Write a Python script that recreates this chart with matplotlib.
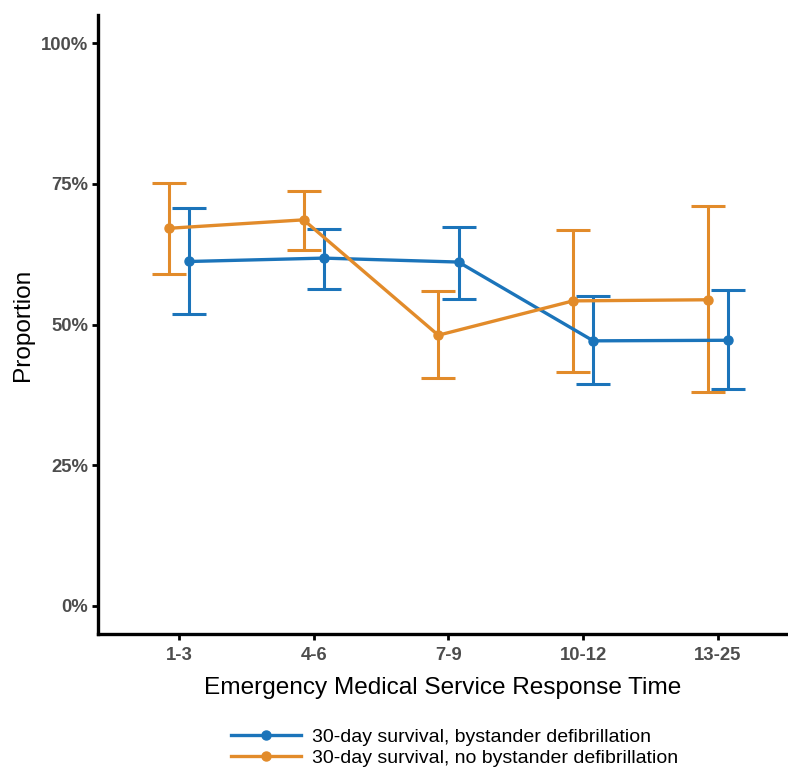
import matplotlib.pyplot as plt
import numpy as np
from matplotlib.ticker import FuncFormatter

plt.rcParams['font.family'] = ['Liberation Sans', 'DejaVu Sans']

# response time groups (minutes)
groups = ["1-3", "4-6", "7-9", "10-12", "13-25"]

# 30-day survival, bystander defibrillation
byst = [0.612, 0.618, 0.611, 0.471, 0.472]
byst_lo = [0.519, 0.564, 0.546, 0.394, 0.386]
byst_hi = [0.707, 0.669, 0.674, 0.550, 0.561]

# 30-day survival, no bystander defibrillation
nobyst = [0.671, 0.686, 0.481, 0.542, 0.544]
nobyst_lo = [0.590, 0.633, 0.405, 0.416, 0.380]
nobyst_hi = [0.751, 0.738, 0.560, 0.668, 0.710]

blue = '#1B74BA'
orange = '#E28B2A'

fig = plt.figure(figsize=(7.88, 7.7), dpi=100)
ax = fig.add_axes([0.1244, 0.1766, 0.8756, 0.8039])

x = np.arange(len(groups))
dodge = 0.075

def draw(xs, y, lo, hi, color, label):
    y = np.array(y)
    err = [y - np.array(lo), np.array(hi) - y]
    ax.errorbar(xs, y, yerr=err, fmt='none', ecolor=color, elinewidth=2.2,
                capsize=12, capthick=2.2, zorder=2)
    ax.plot(xs, y, color=color, lw=2.4, marker='o', ms=6.5, label=label, zorder=3)

draw(x + dodge, byst, byst_lo, byst_hi, blue, "30-day survival, bystander defibrillation")
draw(x - dodge, nobyst, nobyst_lo, nobyst_hi, orange, "30-day survival, no bystander defibrillation")

ax.set_xlim(-0.6, 4.52)
ax.set_ylim(-0.05, 1.05)
ax.set_xticks(x)
ax.set_xticklabels(groups)
ax.set_yticks([0, 0.25, 0.5, 0.75, 1.0])
ax.yaxis.set_major_formatter(FuncFormatter(lambda v, p: f"{v*100:.0f}%"))

for s in ['top', 'right']:
    ax.spines[s].set_visible(False)
for s in ['left', 'bottom']:
    ax.spines[s].set_linewidth(2.4)
    ax.spines[s].set_color('black')

ax.tick_params(axis='both', length=4, width=2, color='black', labelsize=13.3,
               labelcolor='#4D4D4D')
ax.tick_params(axis='x', pad=5)
ax.tick_params(axis='y', pad=3)
for lab in ax.get_xticklabels() + ax.get_yticklabels():
    lab.set_fontweight('bold')

ax.set_xlabel("Emergency Medical Service Response Time", fontsize=17.6, labelpad=10)
ax.set_ylabel("Proportion", fontsize=17.6, labelpad=5)

fig.legend(loc='center', bbox_to_anchor=(0.577, 0.029), frameon=False,
           fontsize=14, handlelength=3.6, handletextpad=0.6, labelspacing=0.15)

fig.savefig("out.png", dpi=100)
